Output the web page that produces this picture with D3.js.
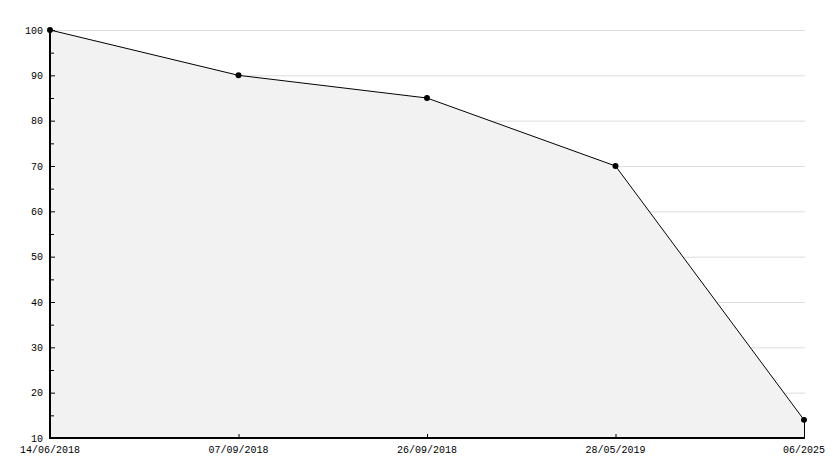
<!DOCTYPE html>
<html><head><meta charset="utf-8">
<script src="https://cdn.jsdelivr.net/npm/d3@7"></script>
<style>body{margin:0;background:#fff}svg{display:block}</style>
</head><body>
<svg id="c" width="834" height="468"></svg>
<script>
const categories = ["14/06/2018", "07/09/2018", "26/09/2018", "28/05/2019", "06/2025"];
const values = [100, 90, 85, 70, 14];
const yMajorTicks = [10, 20, 30, 40, 50, 60, 70, 80, 90, 100];
const yMinorTicks = [15, 25, 35, 45, 55, 65, 75, 85, 95];

(function () {
const svg = d3.select("#c");
const mLeft = 50, mRight = 804, mTop = 30, mBottom = 438;
const font = "'Liberation Mono', 'DejaVu Sans Mono', monospace";

const x = d3.scalePoint().domain(categories).range([mLeft, mRight]);
const y = d3.scaleLinear().domain([10, 100]).range([mBottom, mTop]);

// gridlines
svg.append("g").selectAll("line").data(yMajorTicks.filter(d => d > 10)).join("line")
  .attr("x1", mLeft).attr("x2", mRight + 1)
  .attr("y1", d => y(d) + 0.5).attr("y2", d => y(d) + 0.5)
  .attr("stroke", "#dcdcdc").attr("stroke-width", 1);

// area
const pts = categories.map((c, i) => [x(c), y(values[i])]);
const area = d3.area().x(d => d[0]).y0(mBottom).y1(d => d[1]);
svg.append("path").datum(pts).attr("d", area).attr("fill", "#f2f2f2");
svg.append("line").attr("x1", mRight + 0.5).attr("x2", mRight + 0.5)
  .attr("y1", y(values[values.length - 1])).attr("y2", mBottom)
  .attr("stroke", "#000").attr("stroke-width", 1);

// line
svg.append("path").datum(pts).attr("d", d3.line()).attr("fill", "none")
  .attr("stroke", "#000").attr("stroke-width", 1);

// y axis ticks
const gy = svg.append("g").attr("transform", `translate(${mLeft},0)`)
  .call(d3.axisRight(y).tickValues(yMajorTicks).tickSize(5).tickFormat(""));
gy.select(".domain").remove();
gy.selectAll(".tick line").attr("stroke", "#000");
const gy2 = svg.append("g").attr("transform", `translate(${mLeft},0)`)
  .call(d3.axisRight(y).tickValues(yMinorTicks).tickSize(4).tickFormat(""));
gy2.select(".domain").remove();
gy2.selectAll(".tick line").attr("stroke", "#000");
svg.append("g").selectAll("text").data(yMajorTicks).join("text")
  .attr("x", mLeft - 7).attr("y", d => y(d)).attr("dy", "0.35em")
  .attr("text-anchor", "end").attr("font-family", font).attr("font-size", 10)
  .attr("fill", "#000").text(d => d);

// x axis
const gx = svg.append("g").attr("transform", `translate(0,${mBottom})`)
  .call(d3.axisTop(x).tickSize(4).tickFormat(""));
gx.select(".domain").remove();
gx.selectAll(".tick line").attr("stroke", "#000");
svg.append("g").selectAll("text").data(categories).join("text")
  .attr("x", d => x(d)).attr("y", mBottom + 11).attr("dy", "0.35em")
  .attr("text-anchor", "middle").attr("font-family", font).attr("font-size", 10)
  .attr("fill", "#000").text(d => d);

// axis lines
svg.append("line").attr("x1", mLeft).attr("x2", mLeft).attr("y1", mTop - 1).attr("y2", mBottom + 1)
  .attr("stroke", "#000").attr("stroke-width", 2);
svg.append("line").attr("x1", mLeft - 1).attr("x2", mRight + 1).attr("y1", mBottom).attr("y2", mBottom)
  .attr("stroke", "#000").attr("stroke-width", 2);

// markers
svg.append("g").selectAll("path").data(pts).join("path")
  .attr("transform", d => `translate(${d[0]},${d[1]})`)
  .attr("d", d3.symbol().type(d3.symbolCircle).size(28))
  .attr("fill", "#000");
})();
</script>
</body></html>
